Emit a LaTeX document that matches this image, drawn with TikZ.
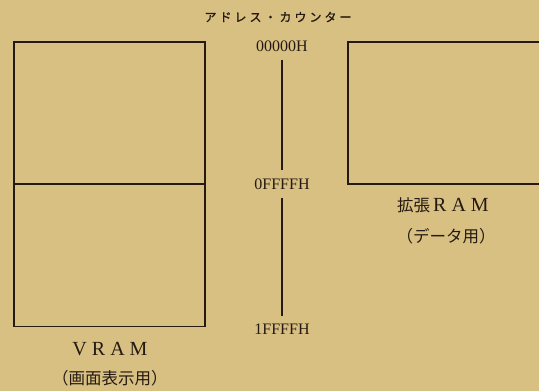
\documentclass[tikz,border=0pt]{standalone}
\usepackage{fontspec}
\setmainfont{Liberation Serif}
\newfontfamily\jp{Noto Sans CJK JP}
\newfontfamily\jpheavy{Noto Sans CJK JP}[FakeBold=1.2]
\definecolor{paper}{HTML}{D8BF82}
\definecolor{ink}{HTML}{241A12}
\newcommand\tgap{\hspace{3pt}}
\newcommand\lgap{\hspace{5pt}}
\begin{document}
\begin{tikzpicture}[x=1pt,y=-1pt,
  wire/.style={draw=ink,line width=1.7pt},
  hexlab/.style={font=\fontsize{16}{16}\selectfont,text=ink,inner sep=0pt},
  jplab/.style={font=\jp\fontsize{16.5}{17}\selectfont,text=ink,inner sep=0pt},
  latlab/.style={font=\fontsize{20}{20}\selectfont,text=ink,inner sep=0pt},
  titlelab/.style={font=\jpheavy\fontsize{12}{12}\selectfont,text=ink,inner sep=0pt},
  half/.style={wire,minimum width=191pt,minimum height=142pt,inner sep=0pt}]
\fill[paper] (0,0) rectangle (539,391);
\useasboundingbox (0,0) rectangle (539,391);
% title
\node[titlelab] (title) at (278,17) {ア\tgap ド\tgap レ\tgap ス\tgap ・\tgap カ\tgap ウ\tgap ン\tgap タ\tgap ー};
% address labels
\node[hexlab] (a0) at (282,46) {00000H};
\node[hexlab] (a1) at (282,184) {0FFFFH};
\node[hexlab] (a2) at (282,329) {1FFFFH};
\draw[wire,shorten <=8pt,shorten >=8pt] (a0.south) -- (a1.north);
\draw[wire,shorten <=8pt,shorten >=8pt] (a1.south) -- (a2.north);
% VRAM box
\node[half] (vtop) at (109.5,113) {};
\node[half] (vbot) at (109.5,255.5) {};
\node[latlab,anchor=north] (vram) at (110,342) {V\lgap R\lgap A\lgap M};
\node[jplab,anchor=north] (vuse) at (110,370) {（画面表示用）};
% extended RAM box
\coordinate (rtl) at (348,42);
\coordinate (rtr) at (541,42);
\coordinate (rbl) at (348,184);
\coordinate (rbr) at (541,184);
\draw[wire] (rtr) -- (rtl) -- (rbl) -- (rbr);
\node[anchor=north,inner sep=0pt,text=ink] (xram) at (443,197) {{\jp\fontsize{16.5}{17}\selectfont 拡張}\hspace{3pt}{\fontsize{20}{20}\selectfont R\lgap A\lgap M}};
\node[jplab,anchor=north] (xuse) at (446,228) {（データ用）};
\end{tikzpicture}
\end{document}
